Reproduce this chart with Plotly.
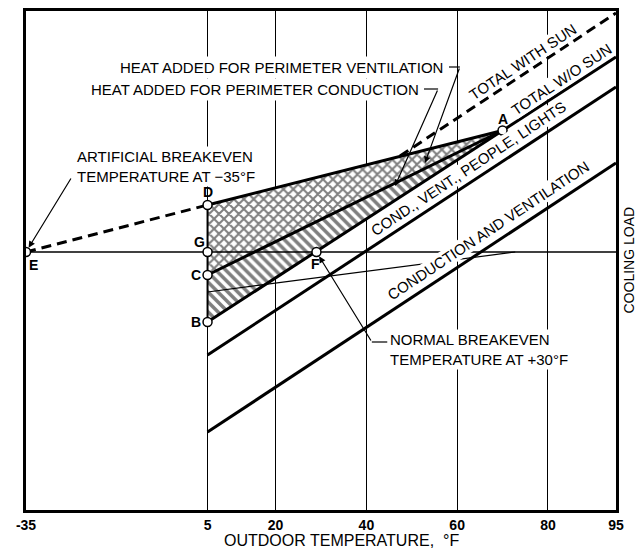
import plotly.graph_objects as go

# ---------------- data ----------------
tick_temps = [-35, 5, 20, 40, 60, 80, 95]
tick_labels = ["-35", "5", "20", "40", "60", "80", "95"]

# cooling-load lines (arbitrary load units, 0 = breakeven)
line_temps = [5, 95]
total_wo_sun = [-14.0, 39.0]
cond_vent_people_lights = [-20.6, 33.0]
cond_vent = [-36.0, 17.8]

total_with_sun_temps = [47.4, 95]
total_with_sun = [19.2, 47.8]

artificial_temps = [-35, 5]
artificial_load = [0.0, 9.4]

breakeven_temps = [-35, 95]
breakeven_load = [0.0, 0.0]

aux_temps = [5, 72.8]
aux_load = [-8.0, 0.0]

point_names = ["A", "B", "C", "D", "E", "F", "G"]
point_temps = [70, 5, 5, 5, -35, 29, 5]
point_loads = [24.3, -14.0, -4.6, 9.4, 0.0, 0.0, 0.0]

P = {n: (t, l) for n, t, l in zip(point_names, point_temps, point_loads)}

FONT = "Liberation Sans, Arial, Helvetica, sans-serif"
BLACK = "#000000"

fig = go.Figure()

# hatched regions
cross_pts = ["D", "A", "C"]
fig.add_trace(go.Scatter(
    x=[P[n][0] for n in cross_pts], y=[P[n][1] for n in cross_pts],
    fill="toself", mode="none", fillcolor="white",
    fillpattern=dict(shape="x", size=7, solidity=0.5, fgcolor=BLACK, bgcolor="white"),
    hoverinfo="skip", showlegend=False))
single_pts = ["C", "A", "B"]
fig.add_trace(go.Scatter(
    x=[P[n][0] for n in single_pts], y=[P[n][1] for n in single_pts],
    fill="toself", mode="none", fillcolor="white",
    fillpattern=dict(shape="\\", size=7, solidity=0.5, fgcolor=BLACK, bgcolor="white"),
    hoverinfo="skip", showlegend=False))

# thin lines
fig.add_trace(go.Scatter(x=breakeven_temps, y=breakeven_load, mode="lines",
                         line=dict(color=BLACK, width=1.3), hoverinfo="skip", showlegend=False))
fig.add_trace(go.Scatter(x=aux_temps, y=aux_load, mode="lines",
                         line=dict(color=BLACK, width=1.2), hoverinfo="skip", showlegend=False))
fig.add_trace(go.Scatter(x=[P["D"][0], P["B"][0]], y=[P["D"][1], P["B"][1]], mode="lines",
                         line=dict(color=BLACK, width=2), hoverinfo="skip", showlegend=False))

# thick lines
for xs, ys in [(line_temps, total_wo_sun), (line_temps, cond_vent_people_lights), (line_temps, cond_vent)]:
    fig.add_trace(go.Scatter(x=xs, y=ys, mode="lines", line=dict(color=BLACK, width=3),
                             hoverinfo="skip", showlegend=False))
for a, b in [("D", "A"), ("C", "A")]:
    fig.add_trace(go.Scatter(x=[P[a][0], P[b][0]], y=[P[a][1], P[b][1]], mode="lines",
                             line=dict(color=BLACK, width=3), hoverinfo="skip", showlegend=False))
# dashed lines
for xs, ys in [(total_with_sun_temps, total_with_sun), (artificial_temps, artificial_load)]:
    fig.add_trace(go.Scatter(x=xs, y=ys, mode="lines",
                             line=dict(color=BLACK, width=3, dash="10px,6px"),
                             hoverinfo="skip", showlegend=False))

# leader brackets
fig.add_trace(go.Scatter(x=[58.2, 60.6], y=[37.0, 37.0], mode="lines",
                         line=dict(color=BLACK, width=1.2), hoverinfo="skip", showlegend=False))
fig.add_trace(go.Scatter(x=[52.7, 55.8], y=[32.6, 32.6], mode="lines",
                         line=dict(color=BLACK, width=1.2), hoverinfo="skip", showlegend=False))
fig.add_trace(go.Scatter(x=[44.6, 41.2], y=[-18.0, -18.0], mode="lines",
                         line=dict(color=BLACK, width=1.2), hoverinfo="skip", showlegend=False))

# points
fig.add_trace(go.Scatter(x=point_temps, y=point_loads, mode="markers",
                         marker=dict(symbol="circle", size=9, color="white",
                                     line=dict(color=BLACK, width=1.5)),
                         hoverinfo="skip", showlegend=False))

annotations = []
# arrows
arrows = [
    (52.9, 17.8, 60.6, 37.0, 0),
    (46.3, 13.2, 55.8, 32.6, 0),
    (-35, 0, -24.9, 15.0, 5),
    (29, 0, 41.2, -18.0, 5),
]
for hx, hy, tx, ty, so in arrows:
    annotations.append(dict(x=hx, y=hy, ax=tx, ay=ty, xref="x", yref="y", axref="x", ayref="y",
                            text="", showarrow=True, arrowhead=2, arrowsize=1.1, arrowwidth=1.2,
                            arrowcolor=BLACK, standoff=so))

txtfont = dict(family=FONT, size=15, color=BLACK)
annotations += [
    dict(x=57.6, y=37.0, xref="x", yref="y", xanchor="right", yanchor="middle",
         text="HEAT ADDED FOR PERIMETER VENTILATION", showarrow=False, font=txtfont,
         bgcolor="white", borderpad=2),
    dict(x=52.2, y=32.6, xref="x", yref="y", xanchor="right", yanchor="middle",
         text="HEAT ADDED FOR PERIMETER CONDUCTION", showarrow=False, font=txtfont,
         bgcolor="white", borderpad=2),
    dict(x=-24.2, y=17.1, xref="x", yref="y", xanchor="left", yanchor="middle", align="left",
         text="ARTIFICIAL BREAKEVEN<br>TEMPERATURE AT −35°F", showarrow=False, font=txtfont,
         bgcolor="white", borderpad=1),
    dict(x=44.8, y=-19.5, xref="x", yref="y", xanchor="left", yanchor="middle", align="left",
         text="NORMAL BREAKEVEN<br>TEMPERATURE AT +30°F", showarrow=False, font=txtfont,
         bgcolor="white", borderpad=1),
]
rot = [
    ("TOTAL WITH SUN", 74.5, 38.2),
    ("TOTAL W/O SUN", 82.9, 34.6),
    ("COND., VENT., PEOPLE, LIGHTS", 62.4, 16.8),
    ("CONDUCTION AND VENTILATION", 66.8, 4.4),
]
for t, x, y in rot:
    annotations.append(dict(x=x, y=y, xref="x", yref="y", text=t, textangle=-33.5,
                            showarrow=False, font=txtfont, bgcolor="white", borderpad=0))

# point letters
offsets = {"A": (0, 12), "B": (-12, 0), "C": (-12, 0), "D": (0, 13),
           "E": (7, -13), "F": (-1, -12), "G": (-8, 10)}
for n, t, l in zip(point_names, point_temps, point_loads):
    dx, dy = offsets[n]
    annotations.append(dict(x=t, y=l, xref="x", yref="y", text=n, showarrow=False,
                            xshift=dx, yshift=dy,
                            font=dict(family=FONT, size=14, color=BLACK, weight="bold")))

# axis titles
annotations += [
    dict(x=0.535, y=-0.062, xref="paper", yref="paper", text="OUTDOOR TEMPERATURE,  °F",
         showarrow=False, yanchor="middle", font=dict(family=FONT, size=16, color=BLACK)),
    dict(x=1.0, y=0.5, xref="paper", yref="paper", text="COOLING LOAD", textangle=-90,
         showarrow=False, xshift=22, font=dict(family=FONT, size=14, color=BLACK)),
]

fig.update_layout(
    width=642, height=551,
    margin=dict(l=26, r=26, t=11, b=41, autoexpand=False),
    paper_bgcolor="white", plot_bgcolor="white",
    showlegend=False,
    annotations=annotations,
    xaxis=dict(range=[-35, 95], tickmode="array", tickvals=tick_temps, ticktext=tick_labels,
               showgrid=True, gridcolor=BLACK, gridwidth=1.2, zeroline=False,
               showline=True, linecolor=BLACK, linewidth=2.5, mirror=True,
               ticks="", tickfont=dict(family=FONT, size=14, color=BLACK, weight="bold")),
    yaxis=dict(range=[-51.6, 48.2], showgrid=False, zeroline=False, showticklabels=False,
               showline=True, linecolor=BLACK, linewidth=2.5, mirror=True, ticks=""),
)

fig.write_html("out.html", config={"displayModeBar": False},
               post_script="document.body.style.margin='0px';")
